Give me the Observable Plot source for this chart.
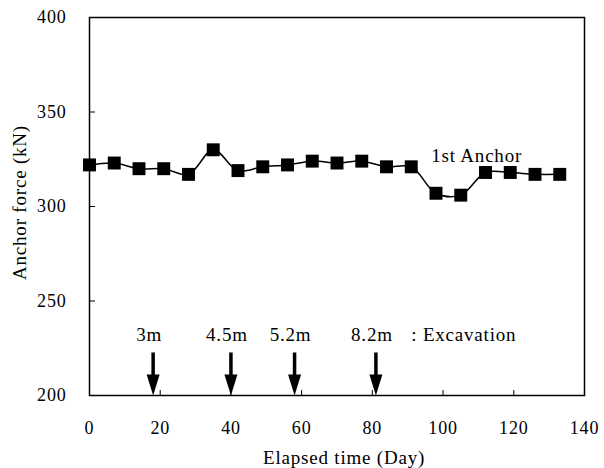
<!DOCTYPE html>
<html>
<head>
<meta charset="utf-8">
<script src="https://cdn.jsdelivr.net/npm/d3@7"></script>
<script src="https://cdn.jsdelivr.net/npm/@observablehq/plot@0.6"></script>
<style>
  body { margin: 0; background: #fff; }
  svg, svg text { font-family: "Liberation Serif", "Times New Roman", serif !important; }
  svg text { letter-spacing: 0.8px; }
</style>
</head>
<body>
<div id="chart"></div>
<script>
const days = [0, 7, 14, 21, 28, 35, 42, 49, 56, 63, 70, 77, 84, 91, 98, 105, 112, 119, 126, 133];
const force = [322, 323, 320, 320, 317, 330, 319, 321, 322, 324, 323, 324, 321, 321, 307, 306, 318, 318, 317, 317];
const excavationDays = [18, 40, 58, 81];
const excavationLabels = ["3m", "4.5m", "5.2m", "8.2m"];
const xTicks = [0, 20, 40, 60, 80, 100, 120, 140];
const yTicks = [200, 250, 300, 350, 400];

const data = days.map((d, i) => ({day: d, force: force[i]}));
const exc = excavationDays.map((d, i) => ({day: d, label: excavationLabels[i]}));

const arrowHead = {
  draw(context) {
    context.moveTo(-6.5, -21);
    context.lineTo(6.5, -21);
    context.lineTo(0, 0);
    context.closePath();
  }
};

const chart = Plot.plot({
  width: 604,
  height: 468,
  marginLeft: 89,
  marginRight: 20,
  marginTop: 17,
  marginBottom: 73,
  style: {fontFamily: '"Liberation Serif", "Times New Roman", serif', fontSize: "18px", color: "#000", background: "#fff"},
  x: {domain: [0, 140]},
  y: {domain: [200, 400]},
  marks: [
    Plot.frame({stroke: "#000", strokeWidth: 1.5}),
    Plot.axisX({ticks: xTicks, tickSize: 0, tickPadding: 26, fontSize: 18, label: null}),
    Plot.axisX({ticks: xTicks, tickSize: -5, text: null, strokeWidth: 1, label: null}),
    Plot.axisY({ticks: yTicks, tickSize: 0, tickPadding: 23, fontSize: 18, label: null}),
    Plot.axisY({ticks: yTicks, tickSize: -6, text: null, strokeWidth: 1, label: null}),
    Plot.line(data, {x: "day", y: "force", curve: "catmull-rom", stroke: "#000", strokeWidth: 1.5}),
    Plot.dot(data, {x: "day", y: "force", symbol: "square", r: 7.3, fill: "#000", stroke: null}),
    Plot.text(["1st Anchor"], {x: 109.5, y: 327, text: d => d, fontSize: 19, fill: "#000"}),
    Plot.ruleX(exc, {x: "day", y1: 210, y2: 222.5, stroke: "#000", strokeWidth: 3.5}),
    Plot.dot(exc, {x: "day", y: 200, symbol: arrowHead, fill: "#000", stroke: null, r: 5}),
    Plot.text(exc, {x: "day", y: 232, text: "label", dx: -4, fontSize: 19, fill: "#000"}),
    Plot.text([": Excavation"], {x: 91, y: 232, text: d => d, textAnchor: "start", fontSize: 19, fill: "#000"}),
    Plot.text(["Elapsed time (Day)"], {x: 72, y: 200, dy: 62, text: d => d, fontSize: 19, fill: "#000"}),
    Plot.text(["Anchor force (kN)"], {frameAnchor: "left", textAnchor: "middle", dx: -70, dy: -4, rotate: -90, text: d => d, fontSize: 19, fill: "#000"})
  ]
});
document.getElementById("chart").appendChild(chart);
</script>
</body>
</html>
